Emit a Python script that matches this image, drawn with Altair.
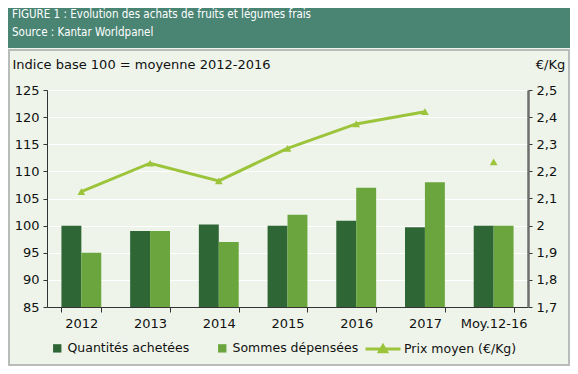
import altair as alt
import pandas as pd

cats = ["2012", "2013", "2014", "2015", "2016", "2017", "Moy.12-16"]
quantites = [100, 99, 100.2, 100, 100.9, 99.7, 100]
sommes = [95, 99, 97, 102, 107, 108, 100]
prix = [2.125, 2.23, 2.165, 2.285, 2.375, 2.42, 2.235]
series = ["Quantités achetées", "Sommes dépensées"]
prix_label = "Prix moyen (€/Kg)"
title1 = "FIGURE 1 : Évolution des achats de fruits et légumes frais"
title2 = "Source : Kantar Worldpanel"

DARK = "#2f6636"
LIGHT = "#6aa63d"
LIME = "#9cc43a"
TEAL = "#4a8574"
BG = "#eef4ea"
FONT = "DejaVu Sans"
NARROW = "DejaVu Sans Condensed, Roboto, sans-serif"

bars_df = pd.DataFrame(
    [{"cat": c, "serie": series[0], "val": v} for c, v in zip(cats, quantites)]
    + [{"cat": c, "serie": series[1], "val": v} for c, v in zip(cats, sommes)]
)
prix_df = pd.DataFrame({"cat": cats, "prix": prix, "lbl": [prix_label] * len(cats)})
line_df = prix_df[prix_df["cat"] != "Moy.12-16"]
one = pd.DataFrame({"a": [0]})

W, H = 481, 217

header = alt.Chart(one).mark_rect(color=TEAL).encode(
    x=alt.value(-39), x2=alt.value(W + 42), y=alt.value(-82), y2=alt.value(-42)
)
border = alt.Chart(one).mark_rect(fill=None, stroke="#b9bdb9", strokeWidth=2).encode(
    x=alt.value(-38), x2=alt.value(W + 41), y=alt.value(-40), y2=alt.value(H + 58)
)
t1 = alt.Chart(one).mark_text(
    text=title1, color="white", font=NARROW, fontSize=11.5, align="left", baseline="middle"
).encode(x=alt.value(-35), y=alt.value(-75))
t2 = alt.Chart(one).mark_text(
    text=title2, color="white", font=NARROW, fontSize=11.5, align="left", baseline="middle"
).encode(x=alt.value(-35), y=alt.value(-57))

xenc = alt.X(
    "cat:N", sort=cats, title=None,
    scale=alt.Scale(paddingInner=0.42, paddingOuter=0.21),
    axis=alt.Axis(labelAngle=0, tickBand="extent", tickSize=5, labelPadding=5,
                  domainColor="#333333", tickColor="#333333", labelFontSize=13),
)

bars = alt.Chart(bars_df).mark_bar().encode(
    x=xenc,
    xOffset=alt.XOffset("serie:N", sort=series, scale=alt.Scale(paddingInner=0)),
    y=alt.Y("val:Q", scale=alt.Scale(domain=[85, 125], zero=False, nice=False),
            axis=alt.Axis(values=list(range(85, 126, 5)), title="Indice base 100 = moyenne 2012-2016",
                          titleAngle=0, titleAlign="left", titleBaseline="middle",
                          titleX=-35, titleY=-26, titleFontWeight="normal", titleFontSize=13,
                          titleFont=FONT, titleColor="#111111",
                          grid=True, gridColor="#ffffff", gridWidth=1.2,
                          domainColor="#333333", tickColor="#333333", tickSize=4,
                          labelFontSize=13, labelPadding=4)),
    y2=alt.Y2(datum=85),
    color=alt.Color("serie:N", sort=series,
                    scale=alt.Scale(domain=series, range=[DARK, LIGHT]),
                    legend=alt.Legend(orient="none", legendX=4, legendY=252, direction="horizontal",
                                      title=None, symbolType="square", symbolSize=70,
                                      columnPadding=26, labelFontSize=12.5, labelFont=FONT,
                                      labelColor="#111111", padding=0)),
)

price_axis = alt.Axis(orient="right", values=[1.7, 1.8, 1.9, 2.0, 2.1, 2.2, 2.3, 2.4, 2.5],
                      labelExpr="replace(format(datum.value, '.1~f'), '.', ',')",
                      title="€/Kg", titleAngle=0, titleAlign="center", titleBaseline="middle",
                      titleX=22, titleY=-26, titleFontWeight="normal", titleFontSize=13,
                      titleFont=FONT, titleColor="#111111",
                      grid=False, domainColor="#6f6f6f", domainWidth=2.5,
                      tickColor="#333333", tickSize=4, labelFontSize=13, labelPadding=4)
yprice = alt.Y("prix:Q", scale=alt.Scale(domain=[1.7, 2.5], zero=False, nice=False), axis=price_axis)

line = alt.Chart(line_df).mark_line(strokeWidth=3).encode(
    x=alt.X("cat:N", sort=cats),
    y=yprice,
    stroke=alt.Stroke("lbl:N", scale=alt.Scale(domain=[prix_label], range=[LIME]),
                      legend=alt.Legend(orient="none", legendX=317, legendY=240, title=None,
                                        symbolType="M-1,0H1M-0.2,0.15L0,-0.19L0.2,0.15Z",
                                        symbolSize=1225, symbolStrokeWidth=3, symbolFillColor=LIME,
                                        labelFontSize=12.5, labelFont=FONT, labelColor="#111111",
                                        padding=0, labelOffset=2)),
)
points = alt.Chart(prix_df).mark_point(shape="triangle-up", filled=True, size=60, color=LIME,
                                       opacity=1).encode(
    x=alt.X("cat:N", sort=cats),
    y=yprice,
)

price_layer = alt.layer(line, points)

chart = alt.layer(header, border, t1, t2, bars, price_layer).resolve_scale(
    y="independent", color="independent"
).properties(
    width=W, height=H,
    padding={"left": 39, "top": 82, "right": 42, "bottom": 59},
    autosize="none",
    background=BG,
).configure_view(stroke=None).configure_axis(
    labelFont=FONT, labelColor="#111111"
)

chart.save("out.html", embed_options={"renderer": "svg", "actions": False})
